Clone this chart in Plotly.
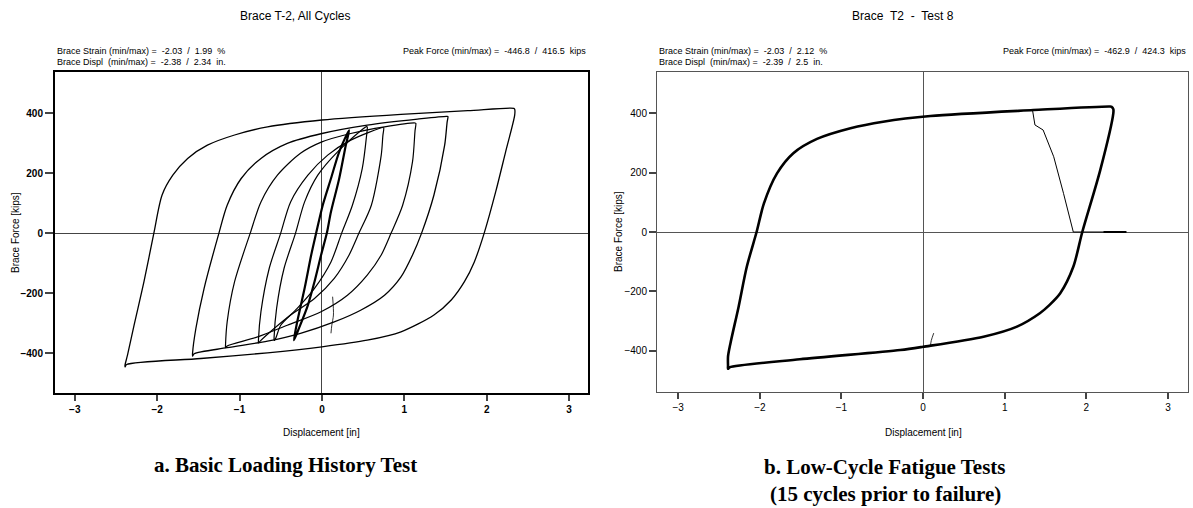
import plotly.graph_objects as go

W, H = 1193, 508

# ---------------- Panel a: Brace T-2, all cycles (displacement [in], force [kips])
loopA_x = [2.34, 2.34, 2.23, 2.11, 1.97, 1.85, 1.73, 1.57, 1.36, 0.96, 0.55, 0.0, -0.66, -1.47, -2.37, -2.39,
           -2.39, -2.36, -2.28, -2.16, -2.04, -1.94, -1.81, -1.63, -1.39, -1.06, -0.66, 0.0, 0.96, 1.77, 2.33, 2.34]
loopA_y = [413, 393, 271, 138, 0, -96, -162, -223, -273, -329, -357, -379, -399, -418, -438, -446,
           -440, -407, -307, -162, 0, 127, 193, 249, 293, 327, 354, 377, 396, 408, 416, 413]

loopB_x = [1.53, 1.52, 1.49, 1.36, 1.21, 1.10, 0.96, 0.76, 0.47, 0.15, -0.26, -0.66, -1.15, -1.55, -1.57,
           -1.57, -1.53, -1.43, -1.25, -1.15, -0.98, -0.74, -0.42, 0.0, 0.55, 1.16, 1.52, 1.53]
loopB_y = [388, 370, 293, 127, 0, -73, -146, -207, -257, -296, -334, -360, -382, -402, -410,
           -400, -318, -184, 0, 93, 182, 249, 299, 332, 360, 380, 389, 388]

loopC_x = [1.14, 1.13, 1.10, 0.98, 0.84, 0.72, 0.55, 0.31, -0.01, -0.42, -0.78, -1.15, -1.17,
           -1.17, -1.15, -1.06, -0.87, -0.74, -0.54, -0.26, 0.0, 0.35, 0.76, 1.13, 1.14]
loopC_y = [366, 340, 238, 93, 0, -73, -140, -207, -262, -307, -346, -376, -382,
           -372, -296, -162, 0, 104, 193, 266, 304, 332, 354, 367, 366]

loopD_x = [0.75, 0.74, 0.72, 0.60, 0.45, 0.33, 0.15, -0.09, -0.38, -0.58, -0.75, -0.77,
           -0.77, -0.74, -0.64, -0.50, -0.38, -0.17, 0.07, 0.35, 0.74, 0.75]
loopD_y = [351, 325, 260, 93, 0, -73, -151, -218, -273, -318, -360, -366,
           -355, -262, -118, 0, 104, 193, 260, 310, 352, 351]

loopE_x = [0.55, 0.54, 0.49, 0.37, 0.24, 0.11, -0.09, -0.30, -0.50, -0.56, -0.58,
           -0.58, -0.55, -0.46, -0.32, -0.21, -0.05, 0.19, 0.54, 0.55]
loopE_y = [354, 320, 216, 93, 0, -96, -184, -251, -307, -350, -358,
           -345, -251, -118, 0, 104, 193, 271, 355, 354]

loopF_x = [0.33, 0.29, 0.21, 0.11, 0.06, -0.01, -0.09, -0.17, -0.28, -0.34,
           -0.30, -0.21, -0.13, -0.07, 0.01, 0.11, 0.21, 0.33]
loopF_y = [343, 293, 182, 71, 0, -73, -162, -240, -318, -357,
           -296, -184, -73, 0, 93, 182, 271, 343]

startA_x = [0.13, 0.14, 0.12, 0.11]
startA_y = [-212, -273, -307, -334]

# ---------------- Panel b: Brace T2, Test 8
loopT8_x = [2.31, 2.33, 2.33, 2.17, 1.95, 1.84, 1.68, 1.55, 1.43, 1.15, 0.74, 0.0, -0.28, -1.51, -2.37, -2.39,
            -2.39, -2.39, -2.36, -2.26, -2.16, -2.04, -1.95, -1.79, -1.59, -1.30, -0.89, -0.49, 0.09, 1.35, 2.29, 2.31]
loopT8_y = [421, 413, 399, 208, 0, -117, -206, -245, -273, -318, -352, -386, -397, -428, -455, -460,
            -450, -419, -374, -251, -117, 0, 96, 197, 265, 313, 349, 371, 390, 410, 422, 421]

fail_x = [1.34, 1.37, 1.47, 1.60, 1.72, 1.76, 1.84, 2.49]
fail_y = [410, 360, 343, 253, 130, 85, 0, 0]
after_x = [2.21, 2.49]
after_y = [0, 0]
startB_x = [0.09, 0.10, 0.13]
startB_y = [-383, -365, -340]

x_ticks = [-3, -2, -1, 0, 1, 2, 3]
y_ticks = [-400, -200, 0, 200, 400]

FONT = "Liberation Sans, Arial, sans-serif"
SERIF = "Liberation Serif, Times New Roman, serif"

fig = go.Figure()

def add(x, y, xa, ya, w, shape="spline"):
    fig.add_trace(go.Scatter(x=x, y=y, mode="lines", xaxis=xa, yaxis=ya,
                             line=dict(color="black", width=w, shape=shape, smoothing=0.8),
                             showlegend=False, hoverinfo="skip"))

add(loopA_x, loopA_y, "x", "y", 1.3)
add(loopB_x, loopB_y, "x", "y", 1.3)
add(loopC_x, loopC_y, "x", "y", 1.2)
add(loopD_x, loopD_y, "x", "y", 1.2)
add(loopE_x, loopE_y, "x", "y", 1.2)
add(loopF_x, loopF_y, "x", "y", 2.2)
add(startA_x, startA_y, "x", "y", 0.8)

add(loopT8_x, loopT8_y, "x2", "y2", 2.6)
add(fail_x, fail_y, "x2", "y2", 1.0, "linear")
add(after_x, after_y, "x2", "y2", 2.0, "linear")
add(startB_x, startB_y, "x2", "y2", 0.8)

def px(v):
    return v / W

def py(v):
    return 1 - v / H

ax_common = dict(showgrid=False, ticks="outside", showline=True, mirror=True,
                 zeroline=True)

fig.update_layout(
    width=W, height=H,
    margin=dict(l=0, r=0, t=0, b=0),
    paper_bgcolor="white", plot_bgcolor="white",
    font=dict(family=FONT, color="black", size=10),
    xaxis=dict(domain=[px(55), px(588)], range=[-3.24, 3.23], tickvals=x_ticks,
               ticklen=6, tickwidth=2, linewidth=2, linecolor="black", zerolinecolor="#444", zerolinewidth=1,
               tickfont=dict(family=FONT, size=10, weight="bold"), anchor="y", **ax_common),
    yaxis=dict(domain=[py(393), py(72)], range=[-533, 537], tickvals=y_ticks,
               ticklen=8, tickwidth=2, linewidth=2, linecolor="black", zerolinecolor="#444", zerolinewidth=1,
               tickfont=dict(family=FONT, size=10, weight="bold"), anchor="x", **ax_common),
    xaxis2=dict(domain=[px(657), px(1188)], range=[-3.26, 3.245], tickvals=x_ticks,
                ticklen=6, tickwidth=1.5, linewidth=1, linecolor="#555", zerolinecolor="#555", zerolinewidth=1,
                tickfont=dict(family=FONT, size=10), anchor="y2", **ax_common),
    yaxis2=dict(domain=[py(392), py(72)], range=[-538, 538], tickvals=y_ticks,
                ticklen=7, tickwidth=1.5, linewidth=1, linecolor="#555", zerolinecolor="#555", zerolinewidth=1,
                tickfont=dict(family=FONT, size=10), anchor="x2", **ax_common),
)

NB = "\u00a0"

def ann(text, x, y, xanchor="center", size=9, family=FONT, angle=0):
    fig.add_annotation(text=text, x=px(x), y=py(y), xref="paper", yref="paper",
                       xanchor=xanchor, yanchor="middle", showarrow=False,
                       font=dict(family=family, size=size, color="black"), textangle=angle)

# panel a texts
ann("Brace T-2, All Cycles", 295, 16, size=12)
ann(f"Brace Strain (min/max) ={NB}{NB}-2.03{NB}{NB}/{NB}{NB}1.99{NB}{NB}%", 55, 51, "left")
ann(f"Brace Displ{NB}{NB}(min/max) ={NB}{NB}-2.38{NB}{NB}/{NB}{NB}2.34{NB}{NB}in.", 55, 62, "left")
ann(f"Peak Force (min/max) ={NB}{NB}-446.8{NB}{NB}/{NB}{NB}416.5{NB}{NB}kips", 588, 51, "right")
ann("Displacement [in]", 321, 432, size=10)
ann("Brace Force [kips]", 15, 233, size=10, angle=-90)

# panel b texts
ann(f"Brace{NB}{NB}T2{NB}{NB}-{NB}{NB}Test 8", 903, 16, size=12)
ann(f"Brace Strain (min/max) ={NB}{NB}-2.03{NB}{NB}/{NB}{NB}2.12{NB}{NB}%", 657, 51, "left")
ann(f"Brace Displ{NB}{NB}(min/max) ={NB}{NB}-2.39{NB}{NB}/{NB}{NB}2.5{NB}{NB}in.", 657, 62, "left")
ann(f"Peak Force (min/max) ={NB}{NB}-462.9{NB}{NB}/{NB}{NB}424.3{NB}{NB}kips", 1188, 51, "right")
ann("Displacement [in]", 923, 432, size=10)
ann("Brace Force [kips]", 618, 232, size=10, angle=-90)

# captions
ann("<b>a. Basic Loading History Test</b>", 285, 465, size=21, family=SERIF)
ann("<b>b. Low-Cycle Fatigue Tests</b>", 885, 467, size=21, family=SERIF)
ann("<b>(15 cycles prior to failure)</b>", 885, 494, size=21, family=SERIF)

fig.write_html("out.html")
